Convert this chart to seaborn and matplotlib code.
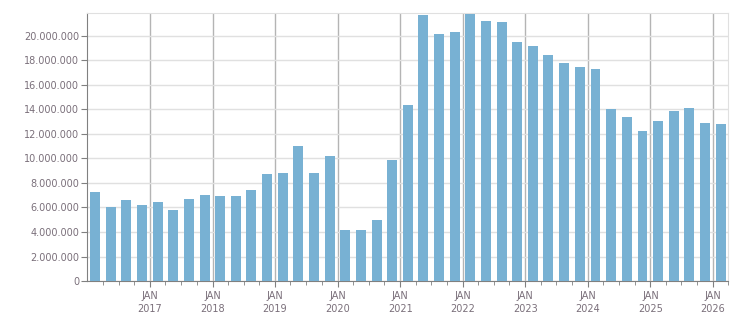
import pandas as pd
import seaborn as sns
import matplotlib
matplotlib.use("Agg")
import matplotlib.pyplot as plt
import matplotlib.dates as mdates
from matplotlib.ticker import FuncFormatter, MultipleLocator, FixedLocator

# quarterly values, Q1 2016 .. Q1 2026
quarters = pd.period_range("2016Q1", "2026Q1", freq="Q")
values = [7.27, 6.04, 6.61, 6.20, 6.45, 5.80, 6.69, 7.02, 6.94, 6.94,
          7.43, 8.73, 8.82, 11.02, 8.82, 10.20, 4.16, 4.16, 4.98, 9.88,
          14.37, 21.71, 20.16, 20.33, 21.80, 21.22, 21.14, 19.51, 19.18, 18.45,
          17.80, 17.47, 17.31, 14.04, 13.39, 12.24, 13.06, 13.88, 14.12, 12.90,
          12.82]
values = [v * 1e6 for v in values]
years = list(range(2017, 2027))

# bars sit at the middle of each quarter
starts = quarters.start_time
ends = (quarters + 1).start_time
mids = starts + (ends - starts) / 2
df = pd.DataFrame({"x": mdates.date2num(mids.to_pydatetime()), "valor": values})

text_col = "#7a6f7a"
bar_col = "#78b1d3"

fig = plt.figure(figsize=(7.51, 3.13), dpi=100)
ax = fig.add_axes([0.1163, 0.1022, 0.9698 - 0.1163, 0.9575 - 0.1022])

sns.barplot(data=df, x="x", y="valor", native_scale=True, width=0.64,
            color=bar_col, saturation=1, ax=ax, zorder=3)

ax.set_xlim(mdates.date2num(pd.Timestamp("2016-01-01")),
            mdates.date2num(pd.Timestamp("2026-04-01")))
ax.set_ylim(0, 21.85e6)

# ejes
jan_ticks = [mdates.date2num(pd.Timestamp(f"{y}-01-01")) for y in years]
ax.xaxis.set_major_locator(FixedLocator(jan_ticks))
ax.xaxis.set_major_formatter(FuncFormatter(lambda v, p: "JAN\n" + mdates.num2date(v).strftime("%Y")))
ax.xaxis.set_minor_locator(mdates.MonthLocator(bymonth=[4, 7, 10]))
ax.yaxis.set_major_locator(MultipleLocator(2e6))
ax.yaxis.set_major_formatter(FuncFormatter(lambda v, p: f"{int(v):,}".replace(",", ".")))

ax.set_xlabel("")
ax.set_ylabel("")
ax.set_axisbelow(True)
ax.grid(axis="y", color="#e0e0e0", lw=1)
ax.grid(axis="x", which="major", color="#b4b4b4", lw=1)

for s in ["top", "right"]:
    ax.spines[s].set_color("#e0e0e0")
for s in ["left", "bottom"]:
    ax.spines[s].set_color("#808080")

ax.tick_params(axis="both", which="major", labelsize=7, labelcolor=text_col,
               color="#808080", length=4, pad=2)
ax.tick_params(axis="x", which="minor", color="#808080", length=3)
ax.tick_params(axis="x", which="major", pad=3)
for lbl in ax.get_xticklabels():
    lbl.set_linespacing(1.45)

fig.savefig("out.png", dpi=100)
